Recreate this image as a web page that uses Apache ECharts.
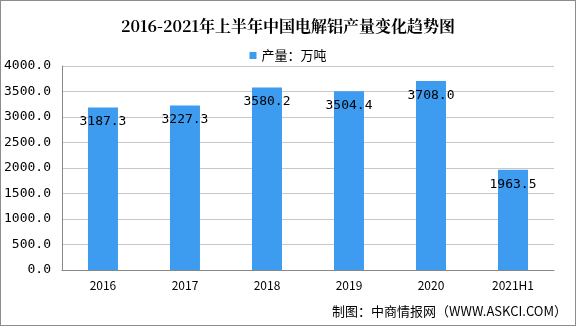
<!DOCTYPE html>
<html><head><meta charset="utf-8">
<script src="https://cdn.jsdelivr.net/npm/echarts@6/dist/echarts.min.js"></script>
<style>html,body{margin:0;padding:0;background:#fff}#c{width:576px;height:326px;box-sizing:border-box;border:1px solid #8c8c8c}</style>
</head><body><div id="c"></div>
<script>
const categories = ['2016','2017','2018','2019','2020','2021H1'];
const production = [3187.3, 3227.3, 3580.2, 3504.4, 3708.0, 1963.5];
const seriesName = '产量：万吨';
const titleText = '2016-2021年上半年中国电解铝产量变化趋势图';
const sourceText = '制图：中商情报网（WWW.ASKCI.COM）';

const chart = echarts.init(document.getElementById('c'));
chart.setOption({
  animation: false,
  title: {text: titleText, left: 'center', top: 12,
    textStyle: {fontFamily: 'Noto Serif CJK SC, Noto Sans CJK SC', fontSize: 16, fontWeight: 'bold', color: '#000'}},
  legend: {top: 43, left: 'center', itemWidth: 7, itemHeight: 7, itemGap: 4,
    textStyle: {fontFamily: 'Noto Sans CJK SC', fontSize: 13, color: '#000'},
    data: [{name: seriesName, icon: 'rect'}]},
  graphic: [{type: 'text', right: 8, top: 304,
    style: {text: sourceText, fontFamily: 'Noto Sans CJK SC', fontSize: 13, fill: '#000'}}],
  grid: {left: 57, right: 21, top: 65, bottom: 55},
  xAxis: {type: 'category', data: categories,
    axisLine: {lineStyle: {color: '#888'}},
    axisTick: {lineStyle: {color: '#888'}},
    axisLabel: {color: '#000', fontSize: 12, fontFamily: 'Noto Sans CJK SC', margin: 9}},
  yAxis: {type: 'value', min: 0, max: 4000, interval: 500,
    axisLine: {show: true, lineStyle: {color: '#888'}},
    axisTick: {show: false},
    splitLine: {lineStyle: {color: '#c8c8c8'}},
    axisLabel: {color: '#000', fontSize: 13, fontFamily: 'DejaVu Sans Mono', margin: 11,
      formatter: v => v.toFixed(1)}},
  series: [{name: seriesName, type: 'bar', data: production, barWidth: 30,
    itemStyle: {color: '#3D9CF0'},
    label: {show: true, position: 'insideTop', distance: 8, color: '#000',
      fontFamily: 'DejaVu Sans Mono', fontSize: 13, formatter: p => p.value.toFixed(1)}}]
});
</script></body></html>
